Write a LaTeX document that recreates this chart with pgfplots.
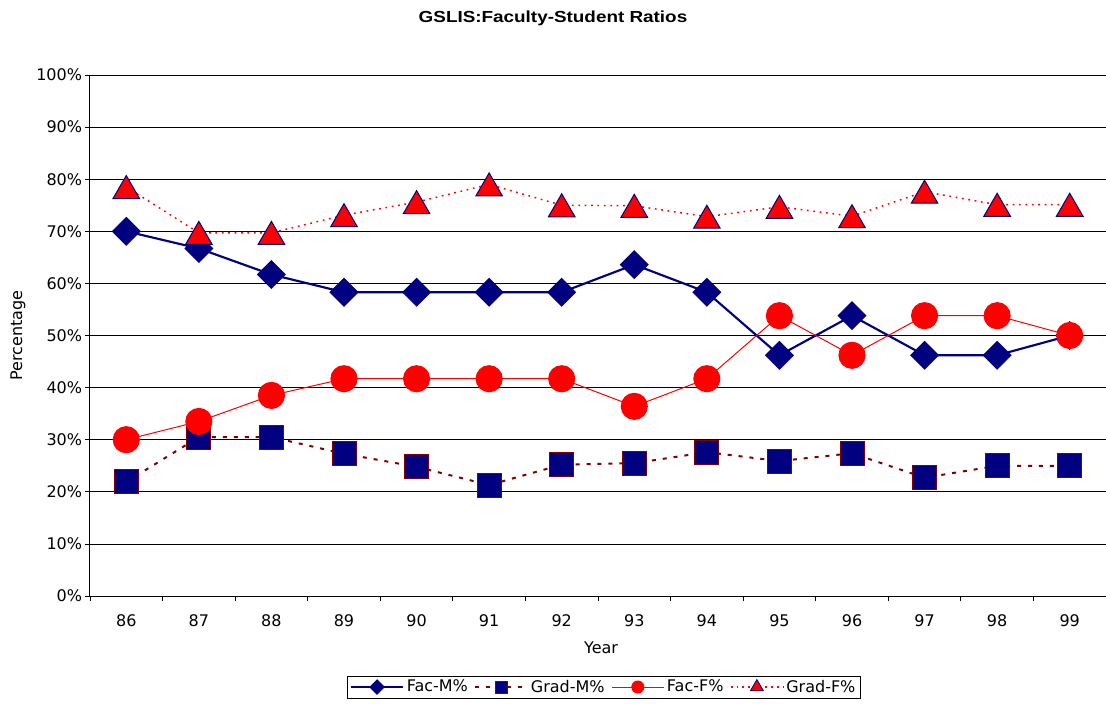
\documentclass[border=0pt]{standalone}
\usepackage{fontspec}
\setmainfont{DejaVu Sans}
\newfontfamily\titlefont[FakeStretch=1.18]{Liberation Sans}
\usepackage{pgfplots}
\pgfplotsset{compat=1.18}
\definecolor{navy}{RGB}{0,0,128}
\definecolor{maroon}{RGB}{128,0,0}
\definecolor{xlred}{RGB}{255,0,0}

% shares by year, 86..99 at x = 0..13
\pgfplotstableread{
x  facm  gradm  facf  gradf
0  70.0  21.9   30.0  78.5
1  66.7  30.5   33.5  69.7
2  61.7  30.5   38.5  69.7
3  58.3  27.3   41.7  73.1
4  58.3  24.8   41.7  75.6
5  58.3  21.3   41.7  79.0
6  58.3  25.2   41.7  75.0
7  63.6  25.5   36.4  74.9
8  58.3  27.6   41.7  72.8
9  46.2  25.9   53.8  74.7
10 53.8  27.4   46.2  72.9
11 46.2  22.7   53.8  77.6
12 46.2  25.0   53.8  75.1
13 50.0  25.0   50.0  75.1
}\ratios

\begin{document}
\begin{tikzpicture}
\begin{axis}[
    scale only axis,
    width=762pt, height=390.75pt,
    xmin=-0.5, xmax=13.5,
    ymin=0, ymax=100,
    axis x line=bottom, axis y line=left,
    axis line style={-, black, line width=0.75pt},
    tick align=outside,
    xtick={0,...,13},
    xticklabels={86,87,88,89,90,91,92,93,94,95,96,97,98,99},
    major x tick style={draw=none},
    minor xtick={-0.5,0.5,...,13.5},
    minor x tick style={black, line width=0.6pt},
    minor tick length=3.75pt,
    major tick length=3.75pt,
    ytick={0,10,...,100},
    ytick style={black, line width=0.6pt},
    yticklabel={\pgfmathprintnumber{\tick}\%},
    /pgf/number format/assume math mode=true,
    ticklabel style={font=\fontsize{12}{14}\selectfont},
    yticklabel style={inner xsep=2pt},
    xticklabel style={yshift=-6.4pt},
    ymajorgrids,
    major grid style={black, line width=0.6pt},
    title={GSLIS:Faculty-Student Ratios},
    every axis title/.style={at={(axis description cs:0.4557,1.109)}, anchor=center,
        font=\titlefont\bfseries\fontsize{12}{14}\selectfont},
    xlabel={Year},
    every axis x label/.style={at={(axis description cs:0.503,-0.0998)}, anchor=center,
        font=\fontsize{12}{14}\selectfont},
    ylabel={Percentage},
    every axis y label/.style={at={(axis description cs:-0.0709,0.5)}, rotate=90, anchor=center,
        font=\fontsize{12}{14}\selectfont},
    legend columns=4,
    legend style={at={(axis description cs:0.506,-0.1747)}, anchor=center,
        draw=black, line width=0.6pt, font=\fontsize{12}{14}\selectfont,
        inner xsep=2pt, inner ysep=1pt,
        /tikz/every even column/.append style={column sep=3pt}},
    legend image code/.code={
        \draw[mark repeat=2,mark phase=2] plot coordinates {(0pt,0pt)(19.5pt,0pt)(39pt,0pt)};},
]

% legend samples (smaller marks than in the plot)
\addlegendimage{navy, line width=1.5pt, mark=square*, mark size=3.4pt,
    mark options={rotate=45, solid, fill=navy, draw=navy}}
\addlegendimage{maroon, line width=1.3pt, dash pattern=on 3pt off 5pt, mark=square*, mark size=4.5pt,
    mark options={solid, fill=navy, draw=maroon, line width=0.6pt}}
\addlegendimage{xlred, line width=0.75pt, mark=*, mark size=4.5pt,
    mark options={solid, fill=xlred, draw=xlred}}
\addlegendimage{xlred, line width=1.1pt, dash pattern=on 1.3pt off 3pt, mark=triangle*, mark size=5.6pt,
    mark options={solid, fill=xlred, draw=navy, line width=0.6pt}}

\addplot[forget plot, navy, line width=1.6pt, mark=square*, mark size=6.9pt,
    mark options={rotate=45, solid, fill=navy, draw=navy}]
    table[x=x, y=facm] {\ratios};
\addplot[forget plot, maroon, line width=1.5pt, dash pattern=on 3pt off 5.2pt, mark=square*, mark size=9pt,
    mark options={solid, fill=navy, draw=maroon, line width=0.75pt}]
    table[x=x, y=gradm] {\ratios};
\addplot[forget plot, xlred, line width=0.75pt, mark=*, mark size=9.8pt,
    mark options={solid, fill=xlred, draw=xlred}]
    table[x=x, y=facf] {\ratios};
\addplot[forget plot, xlred, line width=1.1pt, dash pattern=on 1.3pt off 3.5pt, mark=triangle*, mark size=11.5pt,
    mark options={solid, yshift=-2.9pt, fill=xlred, draw=navy, line width=0.75pt}]
    table[x=x, y=gradf] {\ratios};

\legend{Fac-M\%, Grad-M\%, Fac-F\%, Grad-F\%}
\end{axis}
\pgfresetboundingbox
\path[use as bounding box] (-67.5pt,-80.25pt) rectangle (762pt,447pt);
\end{tikzpicture}
\end{document}
